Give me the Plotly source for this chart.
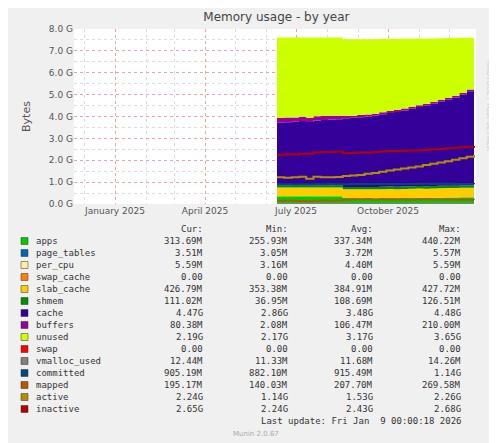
import plotly.graph_objects as go
import pandas as pd

dates = pd.date_range("2025-06-12", "2025-12-26", periods=28)

# stacked areas (GB)
apps = [0.35]*9 + [0.27, 0.27, 0.26, 0.27, 0.26, 0.27, 0.27, 0.26, 0.27, 0.27, 0.28, 0.27, 0.28, 0.28, 0.29, 0.29, 0.30, 0.30, 0.31]
page_tables = [0.0035]*28
per_cpu = [0.0056]*28
swap_cache = [0.0]*28
slab_cache = [0.40]*9 + [0.39, 0.39, 0.40, 0.39, 0.40, 0.40, 0.41, 0.41, 0.41, 0.42, 0.42, 0.42, 0.42, 0.43, 0.43, 0.43, 0.43, 0.43, 0.43]
shmem = [0.10]*9 + [0.11, 0.11, 0.11, 0.11, 0.11, 0.11, 0.11, 0.11, 0.11, 0.11, 0.11, 0.11, 0.11, 0.11, 0.11, 0.11, 0.11, 0.11, 0.11]
cache = [2.86, 2.88, 2.90, 2.93, 2.89, 2.96, 2.98, 3.00, 3.02, 3.14, 3.16, 3.19, 3.22, 3.26,
         3.31, 3.36, 3.42, 3.48, 3.54, 3.61, 3.68, 3.76, 3.84, 3.93, 4.03, 4.15, 4.30, 4.50]
buffers = [0.21, 0.21, 0.20, 0.20, 0.19, 0.19, 0.18, 0.17, 0.16, 0.10, 0.10, 0.10, 0.09, 0.09,
           0.09, 0.09, 0.09, 0.09, 0.09, 0.08, 0.08, 0.08, 0.08, 0.08, 0.08, 0.08, 0.08, 0.08]
unused = [3.68, 3.66, 3.65, 3.62, 3.67, 3.60, 3.59, 3.58, 3.57, 3.51, 3.49, 3.46, 3.44, 3.40,
          3.35, 3.30, 3.24, 3.18, 3.12, 3.06, 2.99, 2.91, 2.83, 2.74, 2.64, 2.52, 2.37, 2.17]
# lines (GB)
swap = [0.0]*28
vmalloc_used = [0.012]*28
committed = [0.90, 0.90, 0.89, 0.90, 0.89, 0.90, 0.90, 0.91, 0.90, 0.90, 0.91, 0.91, 0.91, 0.92,
             0.91, 0.92, 0.92, 0.92, 0.92, 0.92, 0.93, 0.92, 0.93, 0.93, 0.92, 0.91, 0.91, 0.905]
mapped = [0.15, 0.16, 0.15, 0.14, 0.13, 0.15, 0.16, 0.15, 0.16, 0.20, 0.21, 0.22, 0.22, 0.21,
          0.22, 0.21, 0.22, 0.21, 0.20, 0.21, 0.22, 0.21, 0.20, 0.21, 0.20, 0.19, 0.20, 0.195]
active = [1.22, 1.20, 1.22, 1.25, 1.15, 1.25, 1.22, 1.22, 1.23, 1.28, 1.30, 1.33, 1.38, 1.42,
          1.48, 1.53, 1.58, 1.62, 1.67, 1.72, 1.78, 1.84, 1.90, 1.96, 2.02, 2.09, 2.16, 2.24]
inactive = [2.25, 2.28, 2.26, 2.30, 2.30, 2.35, 2.38, 2.38, 2.40, 2.32, 2.33, 2.35, 2.36, 2.38,
            2.40, 2.42, 2.42, 2.44, 2.45, 2.45, 2.47, 2.50, 2.52, 2.55, 2.57, 2.60, 2.62, 2.65]

names = ["apps", "page_tables", "per_cpu", "swap_cache", "slab_cache", "shmem", "cache", "buffers",
         "unused", "swap", "vmalloc_used", "committed", "mapped", "active", "inactive"]
colors = ["#00CC00", "#0066B3", "#FFF0A0", "#FF8000", "#FFCC00", "#008F00", "#330099", "#990099",
          "#CCFF00", "#FF0000", "#808080", "#00487D", "#B35A00", "#B38F00", "#B30000"]
cur = ["313.69M", "3.51M", "5.59M", "0.00", "426.79M", "111.02M", "4.47G", "80.38M", "2.19G",
       "0.00", "12.44M", "905.19M", "195.17M", "2.24G", "2.65G"]
mins = ["255.93M", "3.05M", "3.16M", "0.00", "353.38M", "36.95M", "2.86G", "2.08M", "2.17G",
        "0.00", "11.33M", "882.10M", "140.03M", "1.14G", "2.24G"]
avgs = ["337.34M", "3.72M", "4.40M", "0.00", "384.91M", "108.69M", "3.48G", "106.47M", "3.17G",
        "0.00", "11.68M", "915.49M", "207.70M", "1.53G", "2.43G"]
maxs = ["440.22M", "5.57M", "5.59M", "0.00", "427.72M", "126.51M", "4.48G", "210.00M", "3.65G",
        "0.00", "14.26M", "1.14G", "269.58M", "2.26G", "2.68G"]

stacked = [apps, page_tables, per_cpu, swap_cache, slab_cache, shmem, cache, buffers, unused]
lines = [swap, vmalloc_used, committed, mapped, active, inactive]

fig = go.Figure()
for i, s in enumerate(stacked):
    fig.add_trace(go.Scatter(x=dates, y=s, stackgroup="mem", mode="lines", line=dict(width=0, shape="hv"),
                             fillcolor=colors[i], name=names[i]))
for j, s in enumerate(lines):
    i = 9 + j
    fig.add_trace(go.Scatter(x=dates, y=s, mode="lines", line=dict(color=colors[i], width=2, shape="hv"),
                             name=names[i]))

H = 443
top, bot = 28, 203
L, R = 66, 468
shift = 7  # page offset seen in the screenshot
def yp(py):
    return (bot - py) / (bot - top)
def xp(px):
    return (px - L) / (R - L)

mono = dict(family="DejaVu Sans Mono", size=9, color="#333")
cols = [197, 282, 367, 455]
ann = []
for k, h in enumerate(["Cur:", "Min:", "Avg:", "Max:"]):
    ann.append(dict(x=cols[k], y=yp(228), text=h, xanchor="right"))
for r, n in enumerate(names):
    py = 240 + r * 12
    ann.append(dict(x=26, y=yp(py), text=n, xanchor="left"))
    for k, col in enumerate([cur, mins, avgs, maxs]):
        ann.append(dict(x=cols[k], y=yp(py), text=col[r], xanchor="right"))
ann.append(dict(x=455, y=yp(420), text="Last update: Fri Jan  9 00:00:18 2026", xanchor="right"))
ann = [dict(a, x=xp(a["x"]), xref="paper", yref="paper", showarrow=False, yanchor="middle", font=mono) for a in ann]
ann.append(dict(x=xp(248), y=yp(433), xref="paper", yref="paper", text="Munin 2.0.67", yanchor="middle",
                showarrow=False, font=dict(family="DejaVu Sans", size=7, color="#aaa")))
ann.append(dict(x=xp(487), y=yp(58), xref="paper", yref="paper", text="RRDTOOL / TOBI OETIKER",
                textangle=90, showarrow=False, font=dict(family="DejaVu Sans", size=7, color="#ccc")))

shapes = []
for r, c in enumerate(colors):
    py = 240 + r * 12
    shapes.append(dict(type="rect", xref="paper", yref="paper", x0=xp(13), x1=xp(20),
                       y0=yp(py + 3.5), y1=yp(py - 3.5), fillcolor=c, line=dict(width=0.5, color="#333")))

fig.update_layout(
    width=497, height=443, margin=dict(l=L, r=497 - R, t=top - shift, b=H - bot + shift),
    paper_bgcolor="#f0f0f0", plot_bgcolor="white", showlegend=False,
    title=dict(text="Memory usage - by year", x=0.54, y=0.99, yanchor="top",
               font=dict(family="DejaVu Sans", size=12, color="#444")),
    font=dict(family="DejaVu Sans", size=9, color="#555"),
    annotations=ann, shapes=shapes,
)
fig.update_xaxes(range=["2024-11-21", "2025-12-28"], tickvals=["2025-01-01", "2025-04-01", "2025-07-01", "2025-10-01"],
                 ticktext=["January 2025", "April 2025", "July 2025", "October 2025"],
                 showgrid=True, gridcolor="#f0a0a0", griddash="dot", gridwidth=1,
                 minor=dict(dtick="M1", showgrid=True, gridcolor="#dddddd", griddash="dot"),
                 showline=False, zeroline=False, ticks="")
fig.update_yaxes(range=[0, 8.0], dtick=1, tickformat=".1f", ticksuffix=" G", title=dict(text="Bytes", font=dict(size=11)),
                 showgrid=True, gridcolor="#f0a0a0", griddash="dot",
                 minor=dict(dtick=0.5, showgrid=True, gridcolor="#dddddd", griddash="dot"),
                 zeroline=False, ticks="")

fig.write_html("out.html")
